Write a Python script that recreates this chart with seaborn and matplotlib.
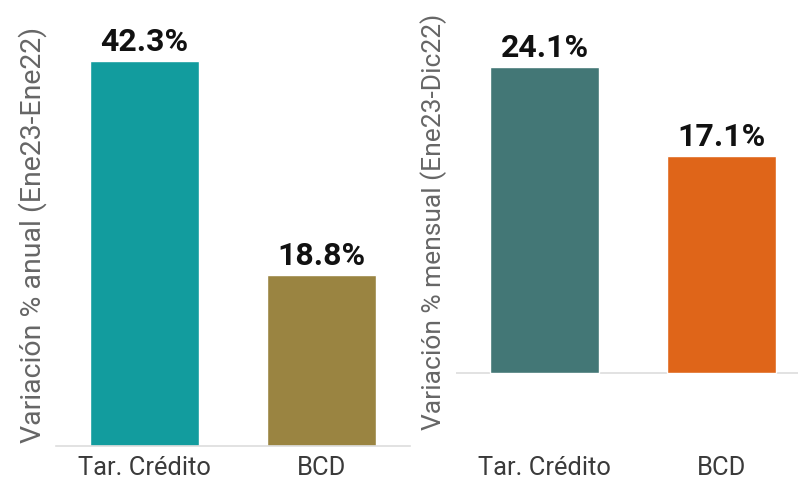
import matplotlib
matplotlib.use("Agg")
import matplotlib.pyplot as plt
import seaborn as sns
import pandas as pd

categories = ["Tar. Crédito", "BCD"]
anual_values = [42.3, 18.8]
mensual_values = [24.1, 17.1]
anual_colors = ["#129c9e", "#9a8441"]
mensual_colors = ["#437776", "#df6519"]
anual_label = "Variación % anual (Ene23-Ene22)"
mensual_label = "Variación % mensual (Ene23-Dic22)"

sns.set_theme(style="white")
plt.rcParams["font.family"] = ["Roboto", "DejaVu Sans"]

W, H = 798, 480
fig = plt.figure(figsize=(W / 100, H / 100), dpi=100)
fig.patch.set_facecolor("white")

def px_axes(x0, x1, ytop, ybot):
    return fig.add_axes([x0 / W, (H - ybot) / H, (x1 - x0) / W, (ybot - ytop) / H])

ax1 = px_axes(56, 410, 20, 446)
ax2 = px_axes(456, 798, 20, 446)

df1 = pd.DataFrame({"cat": categories, "val": anual_values})
df2 = pd.DataFrame({"cat": categories, "val": mensual_values})

sns.barplot(data=df1, x="cat", y="val", hue="cat", palette=anual_colors,
            width=0.616, legend=False, ax=ax1, saturation=1)
sns.barplot(data=df2, x="cat", y="val", hue="cat", palette=mensual_colors,
            width=0.616, legend=False, ax=ax2, saturation=1)

ax1.set_xlim(-0.5, 1.5)
ax1.set_ylim(0, 46.8)
ax2.set_xlim(-0.5, 1.432)
ax2.set_ylim(-5.75, 27.8)

for ax, vals in ((ax1, anual_values), (ax2, mensual_values)):
    for i, v in enumerate(vals):
        ax.annotate(f"{v:.1f}%", xy=(i, v), xytext=(0, 3), textcoords="offset points",
                    ha="center", va="bottom", fontsize=23, fontweight="bold", color="#111111")
    ax.set_xlabel("")
    ax.set_yticks([])
    ax.tick_params(axis="x", length=0, pad=7, labelsize=18.4, labelcolor="#3a3a3a")
    for s in ("top", "right", "left"):
        ax.spines[s].set_visible(False)

ax1.spines["bottom"].set_color("#dddddd")
ax1.spines["bottom"].set_linewidth(1.2)
ax2.spines["bottom"].set_visible(False)
ax2.axhline(0, color="#dddddd", linewidth=1.2, zorder=0)

ax1.set_ylabel(anual_label, fontsize=20.5, color="#666666")
ax2.set_ylabel(mensual_label, fontsize=19, color="#666666")
ax1.yaxis.set_label_coords(-0.025, 0.495)
ax2.yaxis.set_label_coords(-0.026, 0.525)

fig.savefig("out.png", dpi=100, facecolor="white")
